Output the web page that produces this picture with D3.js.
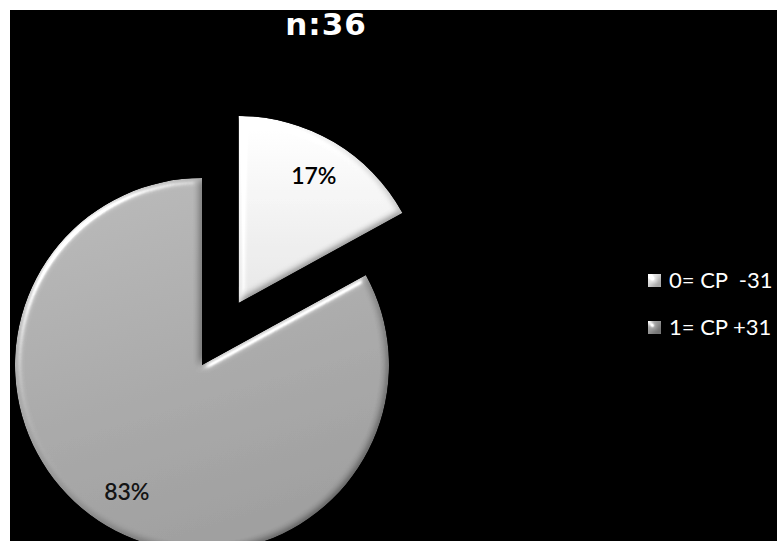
<!DOCTYPE html>
<html>
<head>
<meta charset="utf-8">
<script src="https://cdn.jsdelivr.net/npm/d3@7"></script>
<style>
  html, body { margin: 0; padding: 0; background: #fff; overflow: hidden; }
</style>
</head>
<body>
<div id="chart"></div>
<script>
// data
const categories = ["0= CP  -31", "1= CP +31"];
const values = [17, 83];
const pctLabels = ["17%", "83%"];
const title = "n:36";

var chart_width = 777;
var chart_height = 541;

let svg = d3.select('#chart')
    .append('svg')
    .attr('width', chart_width)
    .attr('height', chart_height);

let defs = svg.append('defs');

// slice gradients
let g0 = defs.append('linearGradient').attr('id', 'fill0')
    .attr('x1', 0).attr('y1', 0).attr('x2', 0).attr('y2', 1);
g0.append('stop').attr('offset', '0%').attr('stop-color', '#ffffff');
g0.append('stop').attr('offset', '100%').attr('stop-color', '#e4e4e4');

let g1 = defs.append('linearGradient').attr('id', 'fill1')
    .attr('x1', 0).attr('y1', 0).attr('x2', 0.3).attr('y2', 1);
g1.append('stop').attr('offset', '0%').attr('stop-color', '#b8b8b8');
g1.append('stop').attr('offset', '100%').attr('stop-color', '#9c9c9c');

// bevel look
let bevel = defs.append('filter').attr('id', 'bevel')
    .attr('x', '-5%').attr('y', '-5%').attr('width', '110%').attr('height', '110%');
bevel.append('feGaussianBlur').attr('in', 'SourceAlpha').attr('stdDeviation', 3.5).attr('result', 'blur');
bevel.append('feDiffuseLighting').attr('in', 'blur').attr('surfaceScale', 3.5)
    .attr('diffuseConstant', 1.15).attr('lighting-color', '#fff').attr('result', 'diff')
    .append('feDistantLight').attr('azimuth', 225).attr('elevation', 60);
bevel.append('feSpecularLighting').attr('in', 'blur').attr('surfaceScale', 3.5)
    .attr('specularConstant', 0.8).attr('specularExponent', 35)
    .attr('lighting-color', '#fff').attr('result', 'spec')
    .append('feDistantLight').attr('azimuth', 225).attr('elevation', 40);
bevel.append('feComposite').attr('in', 'spec').attr('in2', 'SourceAlpha')
    .attr('operator', 'in').attr('result', 'specIn');
bevel.append('feComposite').attr('in', 'SourceGraphic').attr('in2', 'diff')
    .attr('operator', 'arithmetic').attr('k1', 1).attr('result', 'shaded');
bevel.append('feComposite').attr('in', 'shaded').attr('in2', 'specIn')
    .attr('operator', 'arithmetic').attr('k2', 1).attr('k3', 1).attr('result', 'lit');
bevel.append('feComposite').attr('in', 'lit').attr('in2', 'SourceAlpha').attr('operator', 'in');

// black chart area with a white margin top/left
svg.append('rect')
    .attr('x', 10)
    .attr('y', 10)
    .attr('width', chart_width - 10)
    .attr('height', chart_height - 10)
    .attr('fill', '#000');

// title
svg.append('text')
    .text(title)
    .attr('x', 326)
    .attr('y', 35)
    .attr('text-anchor', 'middle')
    .attr('fill', '#fff')
    .attr('font-family', 'DejaVu Sans, sans-serif')
    .attr('font-weight', 'bold')
    .attr('font-size', 31)
    .attr('letter-spacing', 1);

// pie
var cx = 202, cy = 365, radius = 187;
var explode = [72, 0];

let pie = d3.pie().sort(null)(values);
let arc = d3.arc().innerRadius(0).outerRadius(radius);
let labelArc = d3.arc().innerRadius(radius * 0.79).outerRadius(radius * 0.79);

let pieG = svg.append('g').attr('transform', 'translate(' + cx + ',' + cy + ')');

let slices = pieG.selectAll('g.slice')
    .data(pie)
    .enter()
    .append('g')
    .attr('class', 'slice')
    .attr('transform', (d, i) => {
        let mid = (d.startAngle + d.endAngle) / 2;
        return 'translate(' + explode[i] * Math.sin(mid) + ',' + (-explode[i] * Math.cos(mid)) + ')';
    });

slices.append('path')
    .attr('d', arc)
    .attr('fill', (d, i) => 'url(#fill' + i + ')')
    .attr('filter', 'url(#bevel)');

slices.append('text')
    .text((d, i) => pctLabels[i])
    .attr('transform', d => 'translate(' + labelArc.centroid(d) + ')')
    .attr('text-anchor', 'middle')
    .attr('dy', '0.36em')
    .attr('fill', (d, i) => i == 0 ? '#000' : '#141414')
    .attr('font-family', 'Lato, sans-serif')
    .attr('font-weight', 600)
    .attr('font-size', 23);

// legend
let legendFill = ['#dedede', '#9e9e9e'];
let legend = svg.selectAll('g.legend')
    .data(categories)
    .enter()
    .append('g')
    .attr('class', 'legend')
    .attr('transform', (d, i) => 'translate(648,' + (274 + i * 47) + ')');

legend.append('rect')
    .attr('width', 13)
    .attr('height', 13)
    .attr('fill', (d, i) => legendFill[i])
    .attr('filter', 'url(#bevel)');

legend.append('text')
    .text(d => d)
    .attr('x', 21)
    .attr('y', 14)
    .attr('fill', '#fff')
    .attr('font-family', 'Lato, sans-serif')
    .attr('font-size', 22)
    .style('white-space', 'pre');
</script>
</body>
</html>
